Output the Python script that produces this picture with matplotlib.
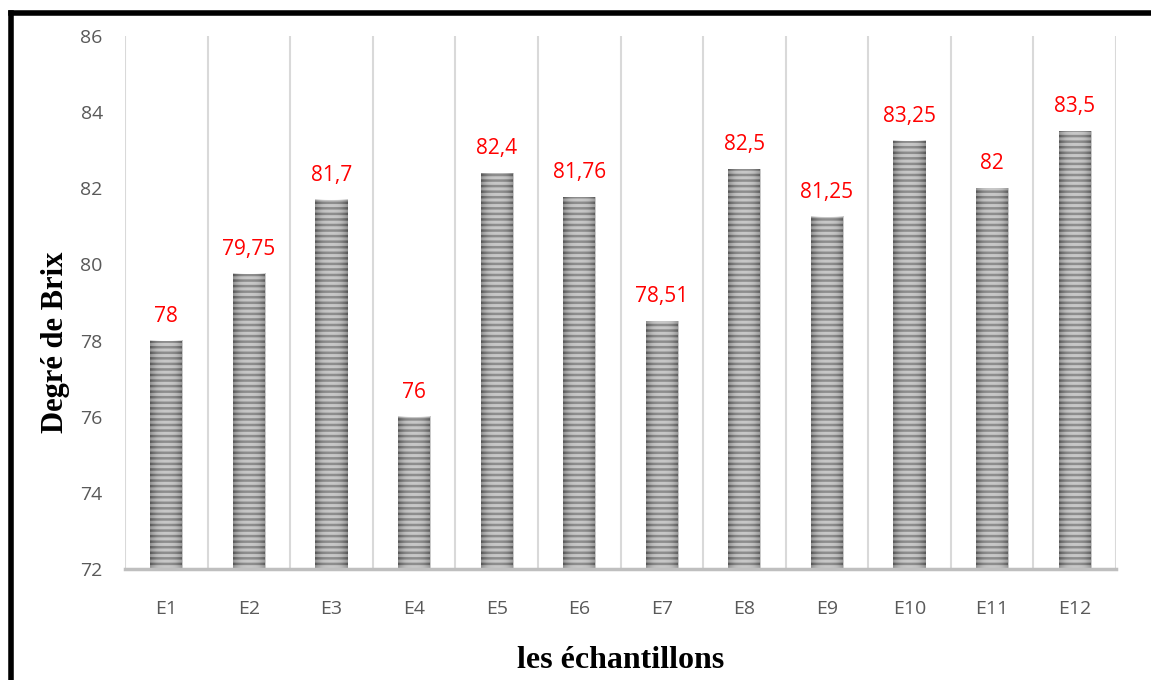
import numpy as np
import matplotlib.pyplot as plt
from matplotlib.lines import Line2D

# Brix degree per sample
samples = ['E1', 'E2', 'E3', 'E4', 'E5', 'E6', 'E7', 'E8', 'E9', 'E10', 'E11', 'E12']
brix = [78, 79.75, 81.7, 76, 82.4, 81.76, 78.51, 82.5, 81.25, 83.25, 82, 83.5]
labels = ['78', '79,75', '81,7', '76', '82,4', '81,76', '78,51', '82,5', '81,25', '83,25', '82', '83,5']
yticks = [72, 74, 76, 78, 80, 82, 84, 86]

plt.rcParams['hatch.linewidth'] = 1.8

fig = plt.figure(figsize=(11.51, 6.80), dpi=100)
ax = fig.add_axes([0.1086, 0.1632, 0.8610, 0.7838])

x = np.arange(len(samples))
bars = ax.bar(x, [v - 72 for v in brix], bottom=72, width=0.39,
              color='#b8b8b8', edgecolor='#6e6e6e', hatch='---', linewidth=0, zorder=3)

# soft shading across each bar, a bit darker at the sides
shade = np.abs(np.linspace(-1, 1, 64)).reshape(1, -1) ** 2
for b in bars:
    x0, y0 = b.get_x(), b.get_y()
    ax.imshow(shade, cmap='Greys', vmin=0, vmax=1, alpha=0.22, aspect='auto',
              extent=(x0, x0 + b.get_width(), y0, y0 + b.get_height()),
              zorder=3.5, clip_path=b, interpolation='bilinear')

for xi, v, lab in zip(x, brix, labels):
    ax.text(xi, v + 0.5, lab, ha='center', va='baseline', color='red',
            fontsize=15, family='Open Sans', zorder=4)

ax.set_xlim(-0.5, len(samples) - 0.5)
ax.set_ylim(72, 86)
ax.set_yticks(yticks)
ax.set_xticks(x)
ax.set_xticklabels(samples)
ax.set_xticks(np.arange(-0.5, len(samples)), minor=True)
ax.grid(which='minor', axis='x', color='#d9d9d9', linewidth=1.5, zorder=0)
ax.grid(which='major', visible=False)

for lab in ax.get_xticklabels() + ax.get_yticklabels():
    lab.set_family('Open Sans')
    lab.set_fontsize(14)
    lab.set_color('#595959')
ax.tick_params(axis='both', which='both', length=0)
ax.tick_params(axis='x', pad=22)
ax.tick_params(axis='y', pad=16)

for side in ['top', 'right', 'left']:
    ax.spines[side].set_visible(False)
ax.spines['bottom'].set_color('#bfbfbf')
ax.spines['bottom'].set_linewidth(2.5)
ax.spines['bottom'].set_zorder(5)

ax.set_ylabel('Degré de Brix', family='Liberation Serif', fontweight='bold',
              fontsize=22, va='center')
ax.yaxis.set_label_coords(-0.0705, 0.425)
ax.set_xlabel('les échantillons', family='Liberation Serif', fontweight='bold',
              fontsize=23, va='center')
ax.xaxis.set_label_coords(0.5, -0.171)

# frame lines along the left and top edge
fig.add_artist(Line2D([0.0099, 0.0099], [0, 0.981], color='black', linewidth=4,
                      transform=fig.transFigure, solid_capstyle='projecting'))
fig.add_artist(Line2D([0.0099, 1.0], [0.981, 0.981], color='black', linewidth=4,
                      transform=fig.transFigure, solid_capstyle='projecting'))

fig.savefig('out.png', dpi=100, facecolor='white')
